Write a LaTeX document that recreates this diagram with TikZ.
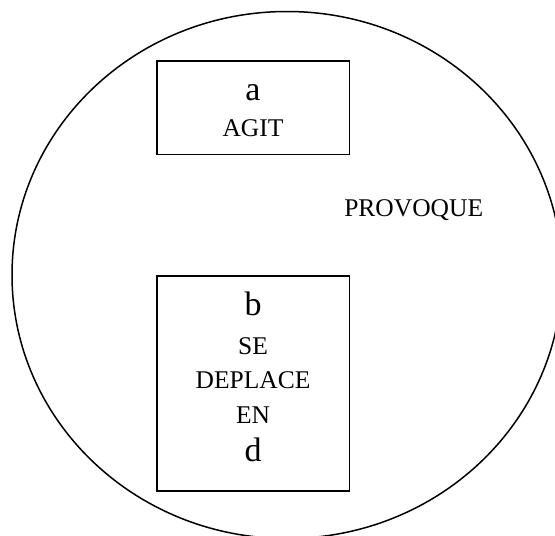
\documentclass[tikz,border=0pt]{standalone}
\usepackage{fontspec}
\setmainfont{Liberation Serif}
\begin{document}
\begin{tikzpicture}[x=1pt,y=-1pt,
  frame/.style={draw,line width=1.6pt,inner sep=0pt},
  word/.style={inner sep=0pt,anchor=base,font=\fontsize{25.5}{30}\selectfont},
  letter/.style={inner sep=0pt,anchor=base,font=\fontsize{34}{40}\selectfont}]
\useasboundingbox (0,0) rectangle (555,536);
\begin{scope}
\clip (0,0) rectangle (555,536);
\draw[line width=1.5pt] (287,275) ellipse [x radius=275, y radius=263.5];
\end{scope}
\node[frame,minimum width=192.6pt,minimum height=93.6pt] (top) at (253,107.5) {};
\node[frame,minimum width=192.6pt,minimum height=215pt] (bot) at (253,383.5) {};
\node[letter] (la) at (253,100.7) {a};
\node[word] (agit) at (253,136.7) {AGIT};
\node[word] (prov) at (413.7,216.5) {PROVOQUE};
\node[letter] (lb) at (253,315) {b};
\node[word] (se) at (253,354) {SE};
\node[word] (depl) at (253,388.3) {DEPLACE};
\node[word] (en) at (253,423.3) {EN};
\node[letter] (ld) at (253,461.7) {d};
\end{tikzpicture}
\end{document}
